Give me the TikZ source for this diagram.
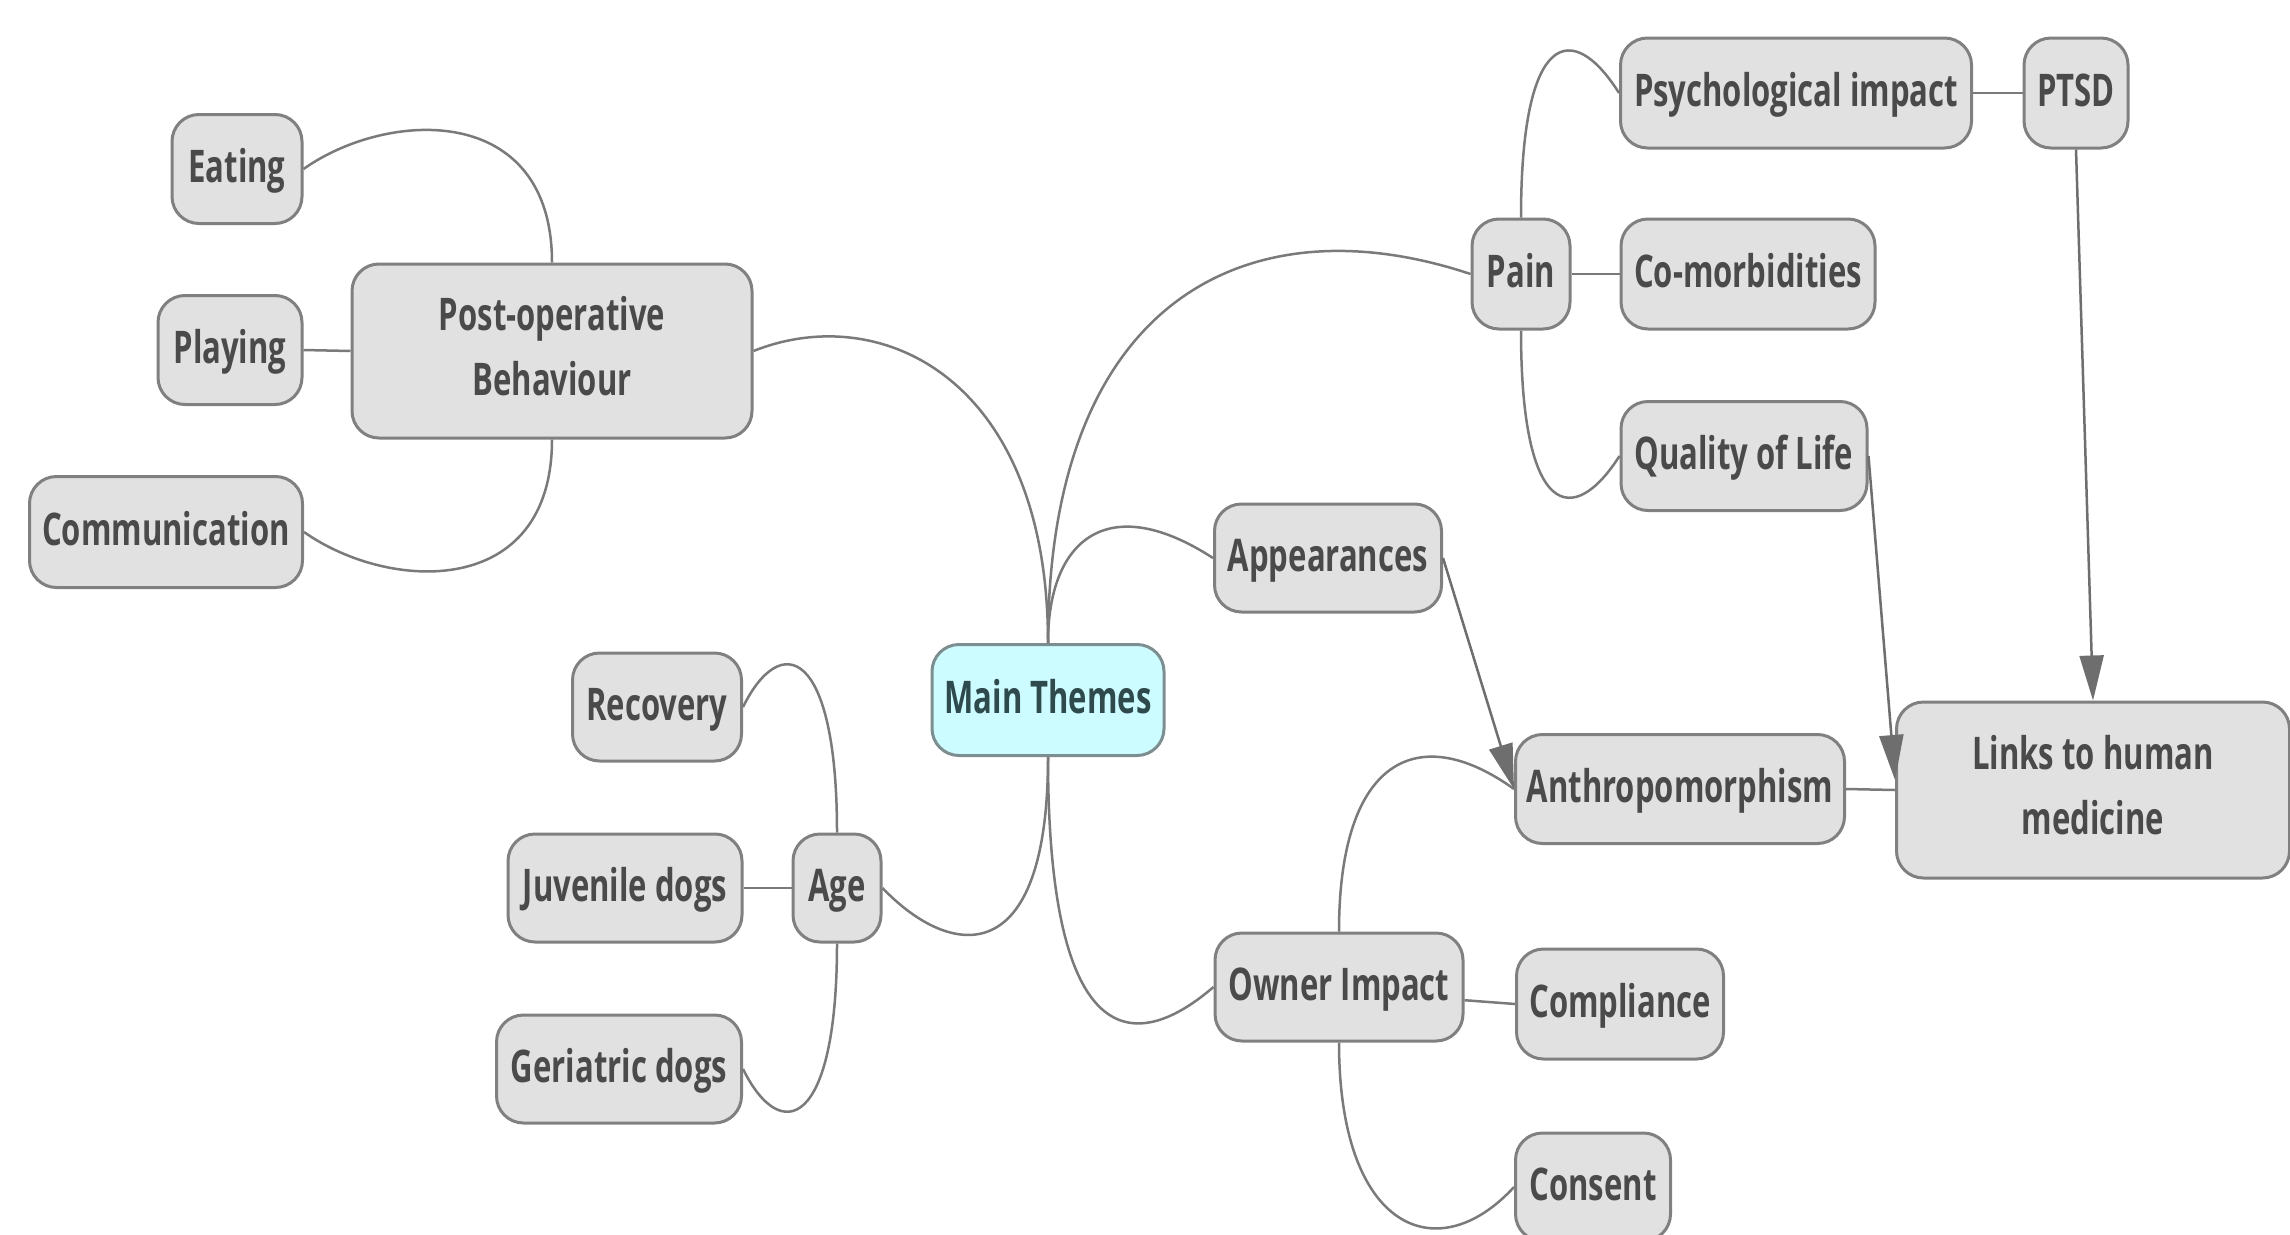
\documentclass[tikz,border=0pt]{standalone}
\usepackage{fontspec}
\newfontfamily\topicfont{Open Sans}[FakeStretch=0.69]
\usetikzlibrary{arrows.meta,calc}
\definecolor{boxfill}{HTML}{E1E1E1}
\definecolor{boxline}{HTML}{808080}
\definecolor{txt}{HTML}{4A4A4A}
\definecolor{mainfill}{HTML}{CCFCFF}
\definecolor{mainline}{HTML}{7C8E8F}
\definecolor{maintxt}{HTML}{2F4A4D}
\definecolor{connc}{HTML}{7A7A7A}
\definecolor{arrc}{HTML}{6E6E6E}
\begin{document}
\begin{tikzpicture}[x=1pt,y=-1pt,
  topic/.style={draw=boxline, fill=boxfill, line width=3pt, rounded corners=27pt,
    inner sep=0pt, text=txt, align=center,
    font=\topicfont\bfseries\fontsize{45}{65}\selectfont,
    text height=35pt, text depth=9pt},
  twoline/.style={text height=100pt, text depth=11pt},
  maintopic/.style={topic, fill=mainfill, draw=mainline, text=maintxt},
  sz/.style 2 args={minimum width=#1pt, minimum height=#2pt},
  conn/.style={draw=connc, line width=2.5pt},
  arr/.style={draw=arrc, line width=2.5pt, -{Triangle[length=45pt,width=24pt]}}
]
\fill[white] (0,0) rectangle (2290,1234);
\useasboundingbox (0,0) rectangle (2290,1234);

% nodes
\node[maintopic, sz={232}{111}] (main) at (1048,700) {Main Themes};
\node[topic, twoline, sz={400}{174}] (post) at (552,351) {Post-operative\\Behaviour};
\node[topic, sz={130}{109}] (eat) at (237,169) {Eating};
\node[topic, sz={144}{109}] (play) at (230,350) {Playing};
\node[topic, sz={273}{111}] (comm) at (166,532) {Communication};
\node[topic, sz={169}{108}] (rec) at (657,707) {Recovery};
\node[topic, sz={234}{108}] (juv) at (625,888) {Juvenile dogs};
\node[topic, sz={88}{108}] (age) at (837,888) {Age};
\node[topic, sz={245}{108}] (ger) at (619,1069) {Geriatric dogs};
\node[topic, sz={227}{108}] (app) at (1328,558) {Appearances};
\node[topic, sz={248}{108}] (owner) at (1339,987) {Owner Impact};
\node[topic, sz={207}{110}] (comp) at (1620,1004) {Compliance};
\node[topic, sz={155}{108}] (cons) at (1593,1187) {Consent};
\node[topic, sz={329}{109}] (anth) at (1680,789) {Anthropomorphism};
\node[topic, twoline, sz={393}{176}] (links) at (2093,790) {Links to human\\medicine};
\node[topic, sz={98}{110}] (pain) at (1521,274) {Pain};
\node[topic, sz={351}{110}] (psych) at (1796,93) {Psychological impact};
\node[topic, sz={104}{110}] (ptsd) at (2076,93) {PTSD};
\node[topic, sz={254}{110}] (como) at (1748,274) {Co-morbidities};
\node[topic, sz={246}{109}] (qol) at (1744,456) {Quality of Life};

% curved connectors
\draw[conn] (main.north) .. controls +(0,-264) and +(128,-51) .. (post.east);
\draw[conn] (main.north) .. controls +(0,-344) and +(-222,-74) .. (pain.west);
\draw[conn] (main.north) .. controls +(0,-104) and +(-105,-68) .. (app.west);
\draw[conn] (main.south) .. controls +(0,215) and +(69,72) .. (age.east);
\draw[conn] (main.south) .. controls +(0,285) and +(-85,73) .. (owner.west);
\draw[conn] (post.north) .. controls +(0,-160) and +(85,-60) .. (eat.east);
\draw[conn] (post.south) .. controls +(0,160) and +(85,60) .. (comm.east);
\draw[conn] (age.north) .. controls +(0,-184) and +(38,-77) .. (rec.east);
\draw[conn] (age.south) .. controls +(0,184) and +(38,77) .. (ger.east);
\draw[conn] (pain.north) .. controls +(0,-189) and +(-46,-73) .. (psych.west);
\draw[conn] (pain.south) .. controls +(0,189) and +(-46,72) .. (qol.west);
\draw[conn] (owner.north) .. controls +(0,-173) and +(-96,-69) .. (anth.west);
\draw[conn] (owner.south) .. controls +(0,189) and +(-76,83) .. (cons.west);

% straight connectors
\draw[conn] (play.east) -- (post.west);
\draw[conn] (juv.east) -- (age.west);
\draw[conn] (pain.east) -- (como.west);
\draw[conn] (psych.east) -- (ptsd.west);
\draw[conn] (owner.-6) -- (comp.west);
\draw[conn] (anth.east) -- (links.west);

% arrows
\draw[arr] (app.east) -- (anth.west);
\draw[arr] (ptsd.south) -- (links.north);
\draw[arr] (qol.east) -- ($(links.west)+(0,-10)$);
\end{tikzpicture}
\end{document}
